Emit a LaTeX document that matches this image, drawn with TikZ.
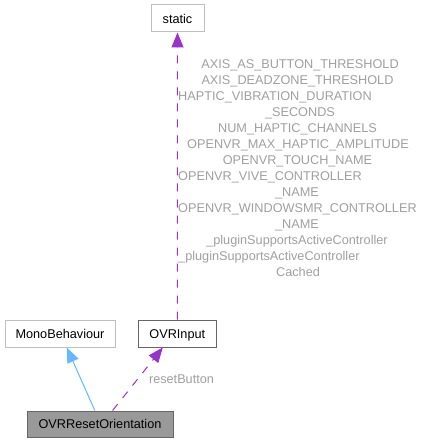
\documentclass[tikz,border=0pt]{standalone}
\usepackage{fontspec}
\setmainfont{Liberation Sans}
\usetikzlibrary{arrows.meta}
\definecolor{dpurple}{HTML}{9A32CD}
\definecolor{dblue}{HTML}{63B8FF}
\definecolor{lblgray}{HTML}{A0A0A0}
\definecolor{lightborder}{HTML}{BFBFBF}
\definecolor{darkborder}{HTML}{666666}
\definecolor{boxfill}{HTML}{999999}
\tikzset{
  cls/.style={draw=lightborder, line width=1pt, fill=white, inner sep=0pt,
    minimum height=27pt, text height=9.1pt, text depth=0pt, font=\fontsize{12.7}{14}\selectfont},
  clsdark/.style={cls, draw=darkborder},
  clsmain/.style={cls, draw=darkborder, fill=boxfill},
  lbl/.style={text=lblgray, inner sep=0pt, font=\fontsize{12.7}{14}\selectfont},
  lblc/.style={lbl, anchor=base},
  lbll/.style={lbl, anchor=base west},
  dep/.style={draw=dpurple, line width=1pt, dash pattern=on 8pt off 8pt,
    -{Triangle[width=12pt,length=15pt,fill=dpurple]}},
  inh/.style={draw=dblue, line width=1pt,
    -{Triangle[width=12pt,length=15pt,fill=dblue]}}
}
\begin{document}
\begin{tikzpicture}[x=1pt,y=-1pt]
\useasboundingbox[fill=white] (0,0) rectangle (424,443);
\node[cls, minimum width=53pt] (static) at (177.5,18.5) {static};
\node[cls, minimum width=110pt] (mono) at (60,333.5) {MonoBehaviour};
\node[clsdark, minimum width=78pt] (ovrinput) at (177.3,333.5) {OVRInput};
\node[clsmain, minimum width=146pt, minimum height=26pt] (oro) at (100,424) {OVRResetOrientation};

\draw[dep] (ovrinput.north) -- (static.south);
\draw[inh] (oro.111) -- (mono.-64);
\draw[dep] (oro.47) -- (ovrinput.224);
\node[lbl] (rb) at (181.5,379) {resetButton};

\node[lblc] (l1) at (300,68.5) {AXIS\_AS\_BUTTON\_THRESHOLD};
\node[lblc] (l2) at (297.5,84.5) {AXIS\_DEADZONE\_THRESHOLD};
\node[lbll] (l3) at (178,100.5) {HAPTIC\_VIBRATION\_DURATION};
\node[lblc] (l4) at (300,116.5) {\_SECONDS};
\node[lblc] (l5) at (297.5,132.5) {NUM\_HAPTIC\_CHANNELS};
\node[lblc] (l6) at (298,148.5) {OPENVR\_MAX\_HAPTIC\_AMPLITUDE};
\node[lblc] (l7) at (297.5,164.5) {OPENVR\_TOUCH\_NAME};
\node[lbll] (l8) at (178,180.5) {OPENVR\_VIVE\_CONTROLLER};
\node[lblc] (l9) at (297,196.5) {\_NAME};
\node[lbll] (l10) at (178,212.5) {OPENVR\_WINDOWSMR\_CONTROLLER};
\node[lblc] (l11) at (297,228.5) {\_NAME};
\node[lblc] (l12) at (297,244.5) {\_pluginSupportsActiveController};
\node[lbll] (l13) at (178,260.5) {\_pluginSupportsActiveController};
\node[lblc] (l14) at (298,276.5) {Cached};
\end{tikzpicture}
\end{document}
